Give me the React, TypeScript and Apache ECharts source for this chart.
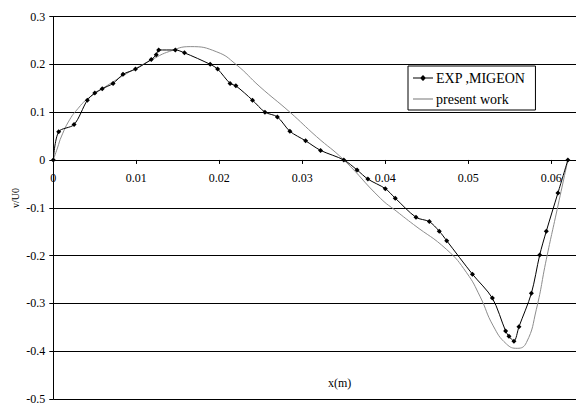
import React, { useEffect, useRef } from "react";
import * as echarts from "echarts";

const expX = [0, 0.00065, 0.0025, 0.0041, 0.005, 0.0059, 0.0072, 0.0084, 0.0099, 0.0118, 0.0124, 0.0127, 0.0147, 0.0158, 0.0189, 0.0198, 0.0213, 0.022, 0.024, 0.0255, 0.027, 0.0285, 0.0304, 0.0322, 0.035, 0.0366, 0.0379, 0.04, 0.0412, 0.0437, 0.0453, 0.0465, 0.0474, 0.0505, 0.0529, 0.0545, 0.0549, 0.0555, 0.0561, 0.0576, 0.0586, 0.0594, 0.0608, 0.062];
const expY = [0, 0.059, 0.074, 0.125, 0.14, 0.149, 0.16, 0.179, 0.19, 0.21, 0.22, 0.23, 0.23, 0.224, 0.2, 0.19, 0.16, 0.155, 0.125, 0.1, 0.09, 0.06, 0.04, 0.02, 0, -0.021, -0.04, -0.06, -0.08, -0.12, -0.129, -0.149, -0.169, -0.239, -0.289, -0.358, -0.369, -0.379, -0.349, -0.279, -0.199, -0.149, -0.069, 0];

const simX = [0, 0.0005, 0.001, 0.002, 0.003, 0.004, 0.006, 0.008, 0.01, 0.012, 0.014, 0.0165, 0.0197, 0.022, 0.0249, 0.0285, 0.0317, 0.035, 0.0394, 0.0414, 0.0434, 0.0474, 0.0498, 0.0514, 0.053, 0.0546, 0.0559, 0.057, 0.0582, 0.0594, 0.0607, 0.062];
const simY = [0, 0.025, 0.05, 0.085, 0.108, 0.126, 0.15, 0.172, 0.192, 0.211, 0.227, 0.237, 0.226, 0.2, 0.153, 0.1, 0.049, 0, -0.08, -0.108, -0.135, -0.1875, -0.236, -0.285, -0.347, -0.385, -0.394, -0.382, -0.3125, -0.208, -0.104, 0];

const seriesNames = ["EXP ,MIGEON", "present work"];
const xAxisTitle = "x(m)";
const yAxisTitle = "v/U0";
const X_LAST_LABEL = 0.06;

const FONT = "Liberation Serif";

// plot geometry
const LEFT = 53.3;
const TOP = 16.5;
const WIDTH = 581; // 0 .. 0.07 (runs off the right edge like the reference)
const HEIGHT = 382.5; // 0.3 .. -0.5
const Y_MAX = 0.3;
const Y_MIN = -0.5;
const zeroOffset = (HEIGHT * Y_MAX) / (Y_MAX - Y_MIN);

export default function App() {
  const ref = useRef<HTMLDivElement>(null);
  useEffect(() => {
    if (!ref.current) return;
    const chart = echarts.init(ref.current, undefined, { renderer: "svg" });
    chart.setOption({
      animation: false,
      backgroundColor: "#fff",
      textStyle: { fontFamily: FONT },
      grid: [
        { left: LEFT, top: TOP, width: WIDTH, height: HEIGHT, containLabel: false, outerBoundsMode: "none" },
        { left: LEFT, top: TOP, width: WIDTH, height: zeroOffset, containLabel: false, outerBoundsMode: "none" },
      ],
      legend: {
        show: true,
        orient: "vertical",
        left: 408,
        top: 66,
        itemWidth: 20,
        itemHeight: 12,
        itemGap: 7,
        padding: [5, 10, 4, 5],
        borderColor: "#000",
        borderWidth: 1,
        backgroundColor: "#fff",
        textStyle: { fontFamily: FONT, fontSize: 14, color: "#000", padding: [0, 0, 0, -2] },
        data: [
          { name: seriesNames[0], icon: "path://M0,5.5L20,5.5L20,6.5L0,6.5Z M10,3L13,6L10,9L7,6Z" },
          { name: seriesNames[1], icon: "path://M0,0L20,0L20,1.2L0,1.2Z" },
        ],
        z: 10,
      },
      xAxis: [
        {
          type: "value",
          gridIndex: 0,
          min: 0,
          max: 0.07,
          interval: 0.01,
          axisLine: { show: false },
          axisTick: { show: false },
          axisLabel: { show: false },
          splitLine: { show: false },
        },
        {
          type: "value",
          gridIndex: 1,
          position: "bottom",
          min: 0,
          max: 0.07,
          interval: 0.01,
          axisLine: { show: true, onZero: false, lineStyle: { color: "#000", width: 1 } },
          axisTick: { show: true, length: 4, inside: false, lineStyle: { color: "#000" } },
          axisLabel: {
            fontFamily: FONT,
            fontSize: 12,
            color: "#000",
            margin: 12,
            showMaxLabel: false,
            formatter: (v: number) => (v > X_LAST_LABEL + 1e-9 ? "" : String(+v.toFixed(4))),
          },
          splitLine: { show: false },
          z: 4,
        },
      ],
      yAxis: [
        {
          type: "value",
          gridIndex: 0,
          min: Y_MIN,
          max: Y_MAX,
          interval: 0.1,
          axisLine: { show: true, onZero: false, lineStyle: { color: "#000", width: 1 } },
          axisTick: { show: true, length: 4, lineStyle: { color: "#000" } },
          axisLabel: { fontFamily: FONT, fontSize: 12, color: "#000", margin: 8 },
          splitLine: { show: true, lineStyle: { color: "#000", width: 1 } },
        },
        {
          type: "value",
          gridIndex: 1,
          min: 0,
          max: 1,
          show: false,
        },
      ],
      graphic: [
        {
          type: "text",
          left: 328,
          top: 377,
          style: { text: xAxisTitle, fontFamily: FONT, fontSize: 12, fill: "#000" },
        },
        {
          type: "text",
          x: 10,
          y: 208,
          rotation: Math.PI / 2,
          style: { text: yAxisTitle, fontFamily: FONT, fontSize: 10, fill: "#000" },
        },
      ],
      series: [
        {
          name: seriesNames[0],
          type: "line",
          xAxisIndex: 0,
          yAxisIndex: 0,
          data: expX.map((x, i) => [x, expY[i]]),
          smooth: 0.3,
          symbol: "diamond",
          symbolSize: 5,
          showSymbol: true,
          itemStyle: { color: "#000" },
          lineStyle: { color: "#000", width: 1 },
          z: 3,
        },
        {
          name: seriesNames[1],
          type: "line",
          xAxisIndex: 0,
          yAxisIndex: 0,
          data: simX.map((x, i) => [x, simY[i]]),
          smooth: 0.5,
          symbol: "none",
          itemStyle: { color: "#8c8c8c" },
          lineStyle: { color: "#8c8c8c", width: 1 },
          z: 2,
        },
      ],
    });
    return () => chart.dispose();
  }, []);
  return (
    <div
      ref={ref}
      style={{ position: "absolute", left: 0, top: 0, width: 576, height: 406 }}
    />
  );
}
